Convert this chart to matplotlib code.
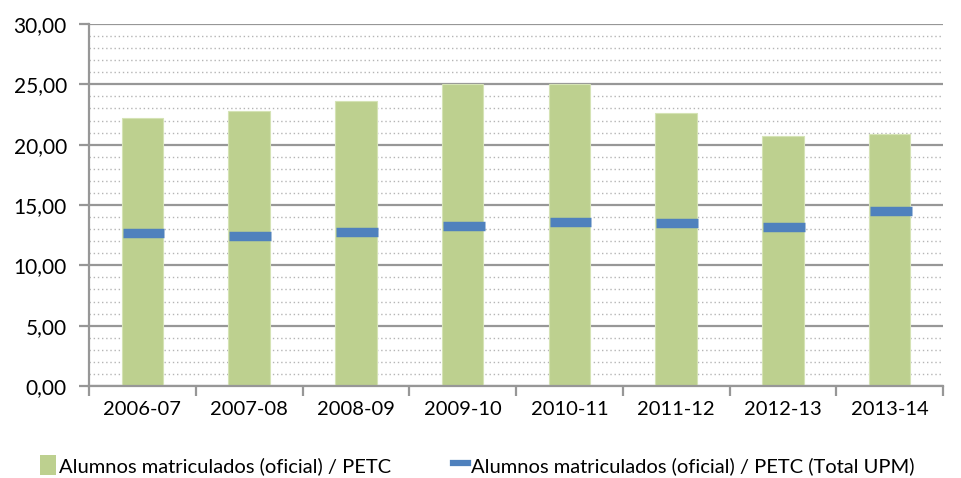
import numpy as np
import matplotlib.pyplot as plt
from matplotlib.ticker import MultipleLocator, FuncFormatter, FixedLocator
from matplotlib.lines import Line2D
from matplotlib.patches import Patch

plt.rcParams['font.family'] = ['Lato', 'DejaVu Sans']

cursos = ['2006-07', '2007-08', '2008-09', '2009-10', '2010-11', '2011-12', '2012-13', '2013-14']
ratio_centro = [22.2, 22.8, 23.6, 25.0, 25.0, 22.6, 20.7, 20.9]
ratio_upm = [12.7, 12.4, 12.8, 13.3, 13.6, 13.5, 13.2, 14.5]

verde = '#bdd08f'
azul = '#4f81bd'
gris = '#979797'

fig = plt.figure(figsize=(9.61, 4.78), dpi=100)
ax = fig.add_axes([89 / 961, 1 - 386 / 478, 854 / 961, 362 / 478])

x = np.arange(len(cursos))
ax.bar(x, ratio_centro, width=0.39, color=verde, edgecolor='#d5e3b5', linewidth=0.8, zorder=2)
# marcador horizontal para el total UPM
ax.errorbar(x + 0.01, ratio_upm, xerr=0.195, fmt='none', ecolor=azul, elinewidth=6.8, capsize=0, zorder=3)

ax.set_xlim(-0.5, len(cursos) - 0.5)
ax.set_ylim(0, 30)
ax.yaxis.set_major_locator(MultipleLocator(5))
ax.yaxis.set_minor_locator(MultipleLocator(1))
ax.yaxis.set_major_formatter(FuncFormatter(lambda v, p: f'{v:.2f}'.replace('.', ',')))
ax.grid(axis='y', which='major', color=gris, linewidth=1.6, zorder=0)
ax.grid(axis='y', which='minor', color='#b5b5b5', linewidth=1.0, linestyle=(0, (1, 2)), zorder=0)

ax.set_xticks(x)
ax.set_xticklabels(cursos)
ax.xaxis.set_minor_locator(FixedLocator(np.arange(-0.5, len(cursos), 1.0)))
ax.tick_params(axis='x', which='major', length=0, pad=11, labelsize=14.5)
ax.tick_params(axis='x', which='minor', length=7, width=1.6, color=gris, direction='out')
ax.tick_params(axis='y', which='major', length=7, width=1.6, color=gris, labelsize=15, pad=9)
ax.tick_params(axis='y', which='minor', length=0)

for s in ['top', 'right']:
    ax.spines[s].set_visible(False)
for s in ['left', 'bottom']:
    ax.spines[s].set_color(gris)
    ax.spines[s].set_linewidth(1.6)

handles = [
    Patch(facecolor=verde, edgecolor='none'),
    Line2D([0], [0], color=azul, linewidth=4.5),
]
labels = ['Alumnos matriculados (oficial) / PETC',
          'Alumnos matriculados (oficial) / PETC (Total UPM)']
fig.legend(handles, labels, loc='center', bbox_to_anchor=(0.497, 1 - 465 / 478), ncol=2,
           frameon=False, fontsize=14.5, handlelength=0.75, handleheight=1.2,
           handletextpad=0.15, columnspacing=3.1, borderaxespad=0)

fig.savefig('out.png', dpi=100)
